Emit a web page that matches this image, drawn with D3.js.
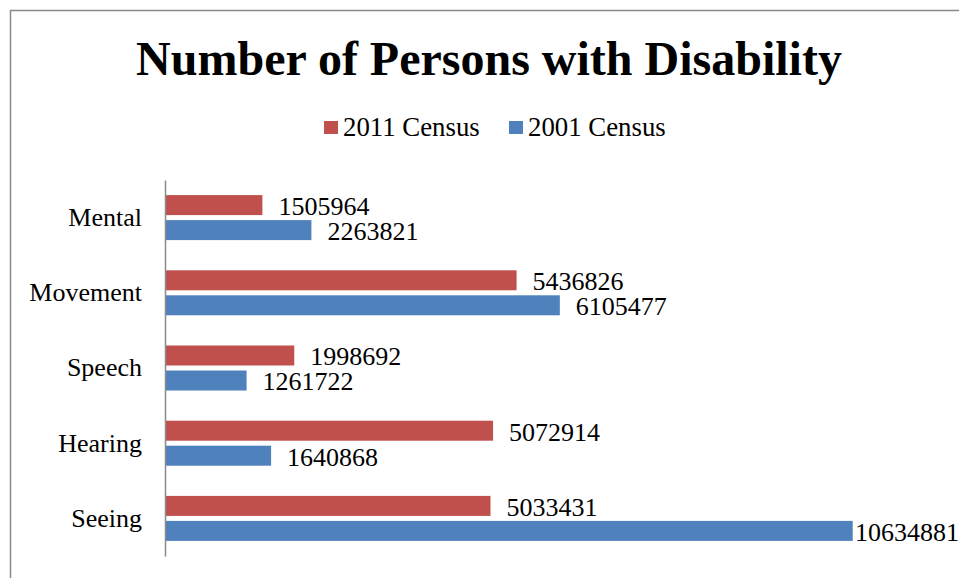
<!DOCTYPE html>
<html>
<head>
<meta charset="utf-8">
<script src="https://cdn.jsdelivr.net/npm/d3@7"></script>
<style>
  html, body { margin: 0; padding: 0; background: #fff; }
  svg { display: block; }
  text { font-family: "Liberation Serif", "Times New Roman", serif; fill: #000; }
</style>
</head>
<body>
<svg id="chart" width="959" height="578"></svg>
<script>
// Disability categories, top to bottom
const categories = ["Mental", "Movement", "Speech", "Hearing", "Seeing"];
// Series names as shown in the legend
const seriesNames = ["2011 Census", "2001 Census"];
// Persons counted per census
const census2011 = [1505964, 5436826, 1998692, 5072914, 5033431];
const census2001 = [2263821, 6105477, 1261722, 1640868, 10634881];
const seriesColors = ["#C0504D", "#4F81BD"];

const W = 959, H = 578;
const svg = d3.select("#chart");

// outer chart frame (runs off the right and bottom edges)
svg.append("rect")
  .attr("x", 10.5).attr("y", 10.5)
  .attr("width", 1200).attr("height", 1200)
  .attr("fill", "none").attr("stroke", "#8a8a8a").attr("stroke-width", 1.5);

// title
svg.append("text")
  .attr("x", 489).attr("y", 75)
  .attr("text-anchor", "middle")
  .style("font-size", "48px").style("font-weight", "bold")
  .text("Number of Persons with Disability");

// legend
const legendItems = [
  { name: seriesNames[0], color: seriesColors[0], x: 324 },
  { name: seriesNames[1], color: seriesColors[1], x: 509 }
];
const lg = svg.append("g");
legendItems.forEach(d => {
  lg.append("rect").attr("x", d.x).attr("y", 121).attr("width", 14).attr("height", 13).attr("fill", d.color);
  lg.append("text").attr("x", d.x + 19).attr("y", 136).style("font-size", "26.8px").text(d.name);
});

// scales
const axisX = 165;
const x = d3.scaleLinear().domain([0, 12000000]).range([axisX, axisX + 776]);
const y0 = d3.scaleBand().domain(categories).range([180, 556]).paddingInner(0).paddingOuter(0);
const y1 = d3.scaleBand().domain(seriesNames).range([0, y0.bandwidth()]).paddingInner(0.2).paddingOuter(0.604);

const rows = categories.map((c, i) => ({
  category: c,
  values: [
    { series: seriesNames[0], value: census2011[i], color: seriesColors[0] },
    { series: seriesNames[1], value: census2001[i], color: seriesColors[1] }
  ]
}));

const groups = svg.append("g").selectAll("g")
  .data(rows).join("g")
  .attr("transform", d => `translate(0,${y0(d.category)})`);

groups.selectAll("rect")
  .data(d => d.values).join("rect")
  .attr("x", x(0) + 1)
  .attr("y", d => y1(d.series))
  .attr("width", d => x(d.value) - x(0) - 1)
  .attr("height", y1.bandwidth())
  .attr("fill", d => d.color);

// value labels, kept inside the chart's right edge
groups.selectAll("text.val")
  .data(d => d.values).join("text")
  .attr("class", "val")
  .style("font-size", "26px")
  .attr("y", d => y1(d.series) + y1.bandwidth() / 2 + 10)
  .text(d => d.value)
  .each(function(d) {
    const w = this.getComputedTextLength();
    const px = Math.min(x(d.value) + 16, W - w);
    d3.select(this).attr("x", px);
  });

// category axis
const yAxis = d3.axisLeft(y0).tickSize(0).tickPadding(23);
const ag = svg.append("g").attr("transform", `translate(${axisX},0)`).call(yAxis);
ag.select(".domain").attr("stroke", "#8a8a8a").attr("stroke-width", 1.5);
ag.selectAll(".tick text")
  .style("font-size", "26px")
  .style("font-family", "'Liberation Serif', 'Times New Roman', serif")
  .attr("fill", "#000")
  .attr("dy", "0.32em");
</script>
</body>
</html>
